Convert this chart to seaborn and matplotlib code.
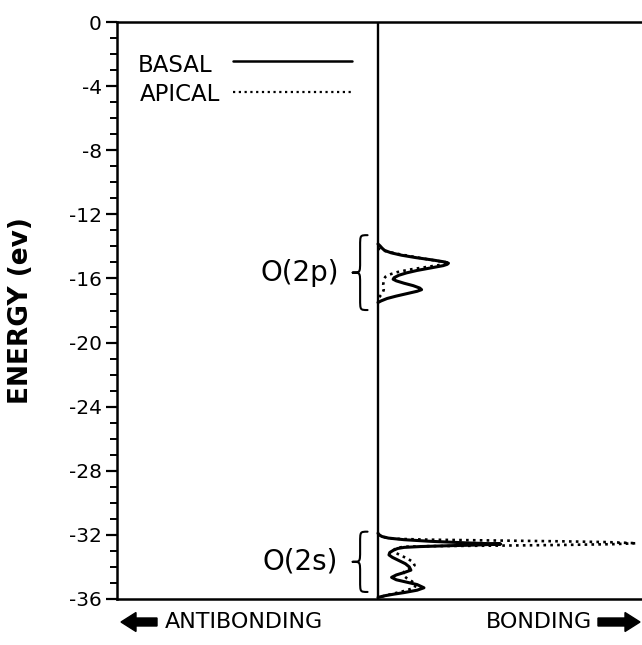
import numpy as np
import pandas as pd
import seaborn as sns
import matplotlib
matplotlib.use("Agg")
import matplotlib.pyplot as plt
from matplotlib.lines import Line2D
from matplotlib.path import Path
from matplotlib.patches import PathPatch, FancyArrow
from matplotlib.transforms import IdentityTransform
from matplotlib.ticker import MultipleLocator

# ---------------- data ----------------
# Basal (solid) COOP, O(2p) region
basal_2p_energy = [-13.85, -13.97, -14.1, -14.25, -14.4, -14.55, -14.7, -14.85, -14.97, -15.05,
                   -15.12, -15.2, -15.35, -15.5, -15.65, -15.8, -15.95, -16.05, -16.15, -16.3,
                   -16.45, -16.6, -16.7, -16.8, -16.95, -17.1, -17.25, -17.4, -17.5]
basal_2p_coop = [0.0, 0.008, 0.015, 0.025, 0.05, 0.09, 0.145, 0.21, 0.255, 0.27,
                 0.265, 0.25, 0.2, 0.15, 0.11, 0.08, 0.062, 0.058, 0.07, 0.1,
                 0.135, 0.16, 0.167, 0.15, 0.11, 0.07, 0.035, 0.012, 0.0]
# Apical (dotted) COOP, O(2p) region
apical_2p_energy = [-14.1, -14.2, -14.3, -14.45, -14.6, -14.75, -14.9, -15.0, -15.05, -15.15,
                    -15.3, -15.45, -15.6, -15.75, -15.9, -16.1, -16.4, -16.7, -16.9, -17.1, -17.3]
apical_2p_coop = [0.0, 0.01, 0.03, 0.07, 0.12, 0.17, 0.225, 0.265, 0.272, 0.24,
                  0.18, 0.12, 0.075, 0.045, 0.028, 0.022, 0.02, 0.022, 0.018, 0.008, 0.0]

# Basal (solid) COOP, O(2s) region
basal_2s_energy = [-31.9, -32.0, -32.1, -32.2, -32.3, -32.4, -32.5, -32.57, -32.63, -32.68,
                   -32.73, -32.78, -32.85, -32.95, -33.1, -33.25, -33.4, -33.6, -33.8, -34.0,
                   -34.2, -34.35, -34.5, -34.65, -34.8, -34.95, -35.1, -35.3, -35.45, -35.6,
                   -35.7, -35.8, -35.9]
basal_2s_coop = [0.0, 0.005, 0.015, 0.04, 0.1, 0.2, 0.34, 0.47, 0.38, 0.26,
                 0.16, 0.1, 0.075, 0.06, 0.045, 0.042, 0.055, 0.08, 0.105, 0.12,
                 0.126, 0.1, 0.07, 0.052, 0.07, 0.11, 0.15, 0.176, 0.15, 0.1,
                 0.06, 0.025, 0.0]
# Apical (dotted) COOP, O(2s) region
apical_2s_energy = [-31.95, -32.1, -32.2, -32.25, -32.3, -32.35, -32.4, -32.45, -32.52, -32.58,
                    -32.63, -32.67, -32.7, -32.74, -32.82, -32.95, -33.1, -33.3, -33.5, -33.7,
                    -33.9, -34.1, -34.3, -34.5, -34.7, -34.9, -35.1, -35.3, -35.5, -35.7,
                    -35.85, -35.95]
apical_2s_coop = [0.0, 0.01, 0.04, 0.08, 0.2, 0.45, 0.7, 0.88, 0.99, 0.9,
                  0.7, 0.45, 0.2, 0.1, 0.07, 0.06, 0.065, 0.09, 0.115, 0.135,
                  0.14, 0.125, 0.1, 0.095, 0.11, 0.13, 0.145, 0.14, 0.1, 0.05,
                  0.015, 0.0]

series_labels = ["BASAL", "APICAL"]
band_labels = ["O(2p)", "O(2s)"]
band_ranges = [(-13.3, -17.97), (-31.8, -35.56)]
ytick_values = [0, -4, -8, -12, -16, -20, -24, -28, -32, -36]
y_label = "ENERGY (ev)"
x_left_text = "ANTIBONDING"
x_right_text = "BONDING"

# ---------------- style ----------------
sns.set_style("ticks")
plt.rcParams["font.family"] = ["DejaVu Sans"]
plt.rcParams["text.color"] = "black"
plt.rcParams["axes.labelcolor"] = "black"
plt.rcParams["axes.edgecolor"] = "black"
plt.rcParams["xtick.color"] = "black"
plt.rcParams["ytick.color"] = "black"

fig = plt.figure(figsize=(6.42, 6.45), dpi=100)
W, H = 642, 645
ax = fig.add_axes([117 / W, 1 - 599 / H, 525 / W, 577 / H])

dotted = (0, (1, 1.6))
for e, c in [(basal_2p_energy, basal_2p_coop), (basal_2s_energy, basal_2s_coop)]:
    df = pd.DataFrame({"coop": c, "energy": e})
    sns.lineplot(data=df, x="coop", y="energy", sort=False, estimator=None,
                 color="black", lw=2.2, ax=ax)
for e, c in [(apical_2p_energy, apical_2p_coop), (apical_2s_energy, apical_2s_coop)]:
    df = pd.DataFrame({"coop": c, "energy": e})
    sns.lineplot(data=df, x="coop", y="energy", sort=False, estimator=None,
                 color="black", lw=1.9, linestyle=dotted, ax=ax)

ax.axvline(0, color="black", lw=1.7, zorder=1)

ax.set_xlim(-1.0, 1.0115)
ax.set_ylim(-36, 0)
ax.set_xticks([])
ax.set_xlabel("")
ax.set_yticks(ytick_values)
ax.set_yticklabels([str(v) for v in ytick_values], fontsize=14.5)
ax.yaxis.set_minor_locator(MultipleLocator(1))
ax.tick_params(axis="y", which="major", direction="out", length=8, width=1.6, pad=3)
ax.tick_params(axis="y", which="minor", direction="out", length=5, width=1.4)
for s in ["left", "top", "bottom"]:
    ax.spines[s].set_linewidth(1.8)
ax.spines["right"].set_visible(False)
ax.set_ylabel(y_label, fontsize=19, fontweight="bold", labelpad=25)


# legend: label text first, sample line after (drawn in axes fraction)
def axfrac(px, py):
    return (px - 117) / 525, 1 - (py - 22) / 577


legend_styles = [dict(lw=1.8, linestyle="-"), dict(lw=1.6, linestyle=dotted)]
legend_rows = [(138, 71.5, 61), (140, 101, 92)]  # text-left px, text-baseline px, line px
for lab, sty, (tx, tb, ly) in zip(series_labels, legend_styles, legend_rows):
    x0, y0 = axfrac(tx, tb)
    ax.text(x0, y0, lab, transform=ax.transAxes, ha="left", va="baseline", fontsize=16.5)
    xa, ya = axfrac(233, ly)
    xb, _ = axfrac(352, ly)
    ax.add_line(Line2D([xa, xb], [ya, ya], transform=ax.transAxes, color="black", **sty))


# band labels and braces
def brace(ax, ytop, ybot, xr=-0.04, xl=-0.097):
    xm = (xr + xl) / 2
    ym = (ytop + ybot) / 2
    d = 0.7
    verts = [(xr, ytop), (xm, ytop), (xm, ytop), (xm, ytop - d),
             (xm, ym + d),
             (xm, ym), (xm, ym), (xl, ym),
             (xm, ym), (xm, ym), (xm, ym - d),
             (xm, ybot + d),
             (xm, ybot), (xm, ybot), (xr, ybot)]
    codes = [Path.MOVETO, Path.CURVE4, Path.CURVE4, Path.CURVE4,
             Path.LINETO,
             Path.CURVE4, Path.CURVE4, Path.CURVE4,
             Path.CURVE4, Path.CURVE4, Path.CURVE4,
             Path.LINETO,
             Path.CURVE4, Path.CURVE4, Path.CURVE4]
    ax.add_patch(PathPatch(Path(verts, codes), fill=False, lw=1.5, color="black",
                           capstyle="round", joinstyle="round"))


for lab, (yt, yb) in zip(band_labels, band_ranges):
    brace(ax, yt, yb)
    ax.text(-0.30, (yt + yb) / 2, lab, ha="center", va="center", fontsize=20)

# bottom direction labels with block arrows (pixel coordinates, origin bottom-left)
arrow_y = H - 622
fig.patches.append(FancyArrow(157, arrow_y, -36, 0, width=8, head_width=19,
                              head_length=15, length_includes_head=True,
                              color="black", transform=IdentityTransform(), figure=fig))
fig.patches.append(FancyArrow(598, arrow_y, 42, 0, width=8, head_width=19,
                              head_length=15, length_includes_head=True,
                              color="black", transform=IdentityTransform(), figure=fig))
fig.text(165 / W, 1 - 622 / H, x_left_text, ha="left", va="center", fontsize=16)
fig.text(592 / W, 1 - 622 / H, x_right_text, ha="right", va="center", fontsize=16)

fig.savefig("out.png", dpi=100, facecolor="white")
